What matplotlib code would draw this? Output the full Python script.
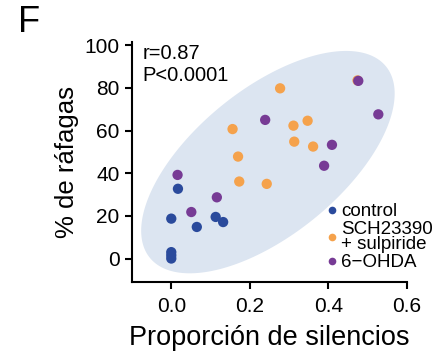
import numpy as np
import matplotlib
matplotlib.use("Agg")
import matplotlib.pyplot as plt
from matplotlib.lines import Line2D

plt.rcParams['font.family'] = ['Liberation Sans', 'DejaVu Sans']

# Data
control_x = [0.0, 0.017, 0.065, 0.113, 0.132, 0.0, 0.0, 0.0]
control_y = [18.7, 32.7, 14.8, 19.5, 17.1, 3.0, 1.5, 0.0]

sch_x = [0.277, 0.156, 0.311, 0.347, 0.313, 0.361, 0.170, 0.173, 0.243, 0.474]
sch_y = [79.8, 60.7, 62.3, 64.6, 54.8, 52.5, 47.8, 36.1, 35.0, 83.5]

ohda_x = [0.016, 0.051, 0.116, 0.239, 0.476, 0.527, 0.409, 0.389]
ohda_y = [39.2, 21.8, 28.7, 65.0, 83.3, 67.6, 53.3, 43.5]

group_labels = ['control', 'SCH23390\n+ sulpiride', '6\u2212OHDA']
group_colors = ['#2a4a9c', '#f5a24c', '#773b95']

x_ticks = [0.0, 0.2, 0.4, 0.6]
y_ticks = [0, 20, 40, 60, 80, 100]

stats_text = 'r=0.87\nP<0.0001'

fig = plt.figure(figsize=(4.45, 3.56), dpi=100)
ax = fig.add_axes([0.2966, 0.2079, 0.618, 0.674])
ax.set_xlim(-0.1, 0.6)
ax.set_ylim(-11, 101.5)

# confidence ellipse, built in an equal-scale space then mapped to data units
xscale = 275 / 0.7   # px per x unit
yscale = 240 / 112.5  # px per y unit
cx, cy = 0.246, 45.2
a, b, ang = 152 / yscale, 73 / yscale, np.deg2rad(39)
t = np.linspace(0, 2 * np.pi, 200)
eu = a * np.cos(t) * np.cos(ang) - b * np.sin(t) * np.sin(ang)
ev = a * np.cos(t) * np.sin(ang) + b * np.sin(t) * np.cos(ang)
ax.fill(cx + eu * yscale / xscale, cy + ev, color='#dce5f1', lw=0, zorder=0)

for xs, ys, c in zip([control_x, sch_x, ohda_x], [control_y, sch_y, ohda_y], group_colors):
    ax.scatter(xs, ys, s=55, color=c, edgecolors='none', zorder=3)

ax.text(-0.074, 100.5, stats_text, fontsize=14.5, va='top', ha='left', linespacing=1.2)

ax.set_xticks(x_ticks)
ax.set_xticklabels(['%.1f' % v for v in x_ticks])
ax.set_yticks(y_ticks)
ax.tick_params(labelsize=15, width=1.5, length=5, pad=4)
ax.tick_params(axis='x', pad=6)
for s in ['top', 'right']:
    ax.spines[s].set_visible(False)
for s in ['left', 'bottom']:
    ax.spines[s].set_linewidth(1.5)

ax.set_xlabel('Proporción de silencios', fontsize=19.5, labelpad=6)
ax.set_ylabel('% de ráfagas', fontsize=18.5, labelpad=4)

handles = [Line2D([], [], ls='none', marker='o', markersize=5.5, color=c, markeredgewidth=0)
           for c in group_colors]
leg = ax.legend(handles, group_labels, loc='lower left', bbox_to_anchor=(0.71, 0.045),
                frameon=False, fontsize=13.5, handlelength=0.5, handletextpad=0.25,
                labelspacing=0.05, borderaxespad=0.0, borderpad=0.0)
for txt in leg.get_texts():
    txt.set_linespacing(0.85)

fig.text(0.04, 0.985, 'F', fontsize=26, va='top', ha='left')

fig.savefig('out.png', dpi=100)
